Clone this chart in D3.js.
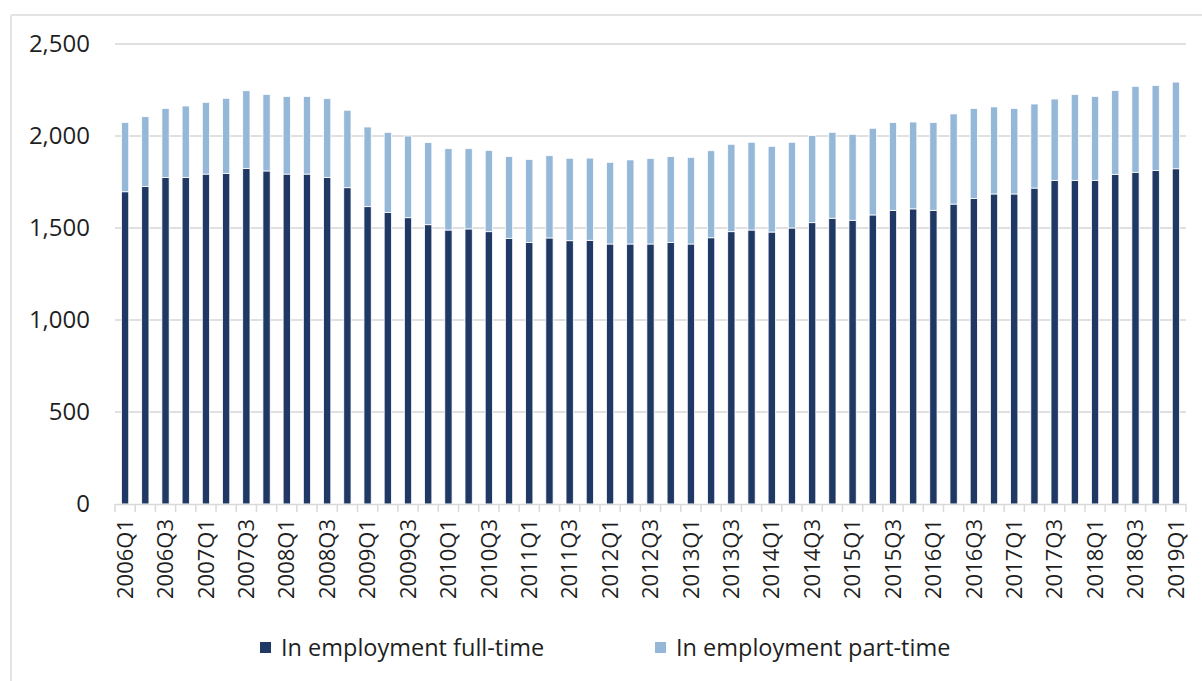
<!DOCTYPE html>
<html><head><meta charset="utf-8">
<script src="https://cdn.jsdelivr.net/npm/d3@7"></script>
<style>
html,body{margin:0;padding:0;background:#fff;}
svg{display:block;font-family:"Open Sans",Lato,sans-serif;}
</style></head>
<body><svg id="c" width="1202" height="681"></svg>
<script>
const quarters = [];
for (let y = 2006; y <= 2019; y++) for (let q = 1; q <= 4; q++) { if (y === 2019 && q > 1) break; quarters.push(y + "Q" + q); }

const fullTime = [1697,1725,1774,1774,1793,1797,1824,1810,1793,1793,1775,1719,1616,
  1585,1556,1518,1489,1495,1480,1444,1422,1446,1431,1433,1413,1413,1413,
  1422,1413,1447,1480,1489,1478,1500,1529,1553,1542,1571,1596,1604,
  1596,1630,1661,1685,1685,1717,1759,1759,1759,1792,1803,1812,1822];
const total = [2074,2105,2150,2163,2183,2205,2246,2226,2215,2215,2203,2140,2049,
  2020,2000,1964,1931,1931,1922,1888,1873,1893,1879,1880,1857,1870,1878,
  1888,1884,1920,1955,1966,1944,1966,2002,2020,2009,2042,2073,2076,
  2074,2120,2150,2158,2150,2174,2201,2226,2215,2248,2270,2275,2293];
const partTime = total.map((t, i) => t - fullTime[i]);
const yTicks = [0, 500, 1000, 1500, 2000, 2500];
const seriesNames = ["In employment full-time", "In employment part-time"];
const colors = ["#1f3864", "#95b8d9"];

const svg = d3.select("#c");
// frame
svg.append("line").attr("x1", 11).attr("x2", 1202).attr("y1", 15).attr("y2", 15).attr("stroke", "#e3e3e3").attr("stroke-width", 2);
svg.append("line").attr("x1", 11).attr("x2", 11).attr("y1", 15).attr("y2", 681).attr("stroke", "#e3e3e3").attr("stroke-width", 2);

const x = d3.scaleBand().domain(quarters).range([115, 1186]).paddingInner(0.64).paddingOuter(0.32);
const y = d3.scaleLinear().domain([0, 2500]).range([504, 44]);

// gridlines
svg.append("g").selectAll("line").data(yTicks.filter(d => d > 0)).join("line")
  .attr("x1", 115).attr("x2", 1186).attr("y1", d => y(d)).attr("y2", d => y(d))
  .attr("stroke", "#e0e0e0").attr("stroke-width", 2);

// y labels
svg.append("g").selectAll("text").data(yTicks).join("text")
  .attr("x", 90).attr("y", d => y(d)).attr("dy", "0.35em").attr("text-anchor", "end")
  .attr("font-size", 24).attr("fill", "#1f1f1f").text(d3.format(","));

const stack = d3.stack().keys([0, 1]).value((d, k) => k === 0 ? d.ft : d.pt);
const rows = quarters.map((q, i) => ({ q, ft: fullTime[i], pt: partTime[i] }));
const layers = stack(rows);
svg.append("g").selectAll("g").data(layers).join("g").attr("fill", (d, i) => colors[i])
  .selectAll("rect").data(d => d).join("rect")
  .attr("x", d => x(d.data.q)).attr("width", x.bandwidth())
  .attr("y", d => y(d[1])).attr("height", d => y(d[0]) - y(d[1]))
  .attr("stroke", "#fff").attr("stroke-width", 0.8);

// x axis line and ticks
svg.append("line").attr("x1", 115).attr("x2", 1186).attr("y1", 504.5).attr("y2", 504.5).attr("stroke", "#d9d9d9").attr("stroke-width", 1.5);
svg.append("g").selectAll("line").data(quarters.concat(["end"])).join("line")
  .attr("x1", (d, i) => 115 + i * x.step()).attr("x2", (d, i) => 115 + i * x.step())
  .attr("y1", 504).attr("y2", 512).attr("stroke", "#d9d9d9").attr("stroke-width", 1.5);

// x labels
svg.append("g").selectAll("text").data(quarters.filter((q, i) => i % 2 === 0)).join("text")
  .attr("transform", d => `translate(${x(d) + x.bandwidth() / 2},519) rotate(-90)`)
  .attr("dy", "0.35em").attr("text-anchor", "end")
  .attr("font-size", 22).attr("fill", "#1f1f1f").text(d => d);

// legend
const lg = svg.append("g");
const lx = [260, 655];
seriesNames.forEach((n, i) => {
  lg.append("rect").attr("x", lx[i]).attr("y", 642).attr("width", 11).attr("height", 11).attr("fill", colors[i]);
  lg.append("text").attr("x", lx[i] + 21).attr("y", 648).attr("dy", "0.35em")
    .attr("font-size", 23.5).attr("fill", "#1f1f1f").text(n);
});
</script></body></html>
